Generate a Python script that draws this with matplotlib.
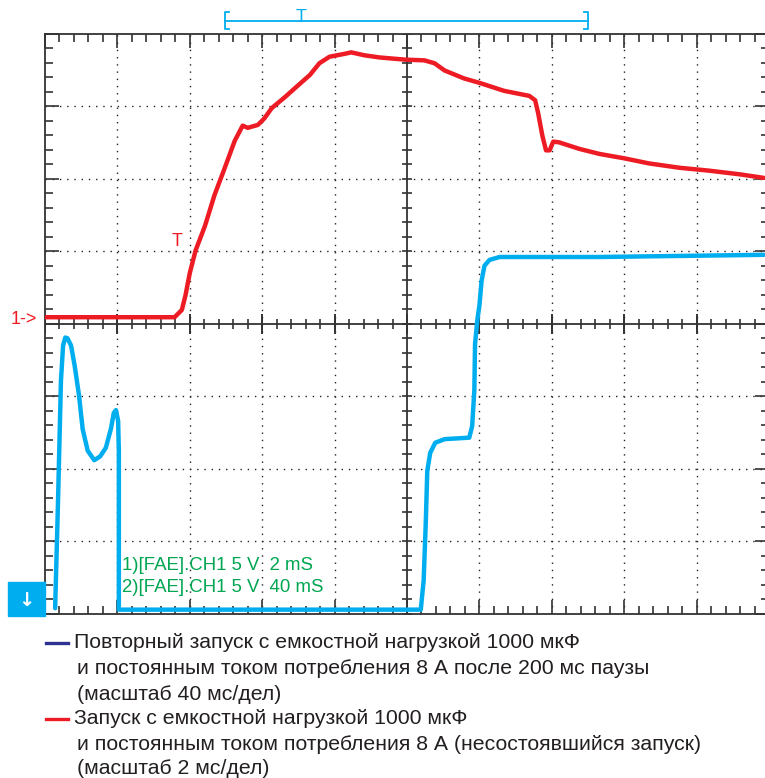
import numpy as np
import matplotlib.pyplot as plt
from matplotlib.lines import Line2D

# traces in screen divisions (x: 0..10, y: -4..4)
red_x = [0, 1.79, 1.89, 1.94, 2.00, 2.08, 2.21, 2.34, 2.48, 2.62, 2.73, 2.80, 2.94, 3.03,
         3.13, 3.31, 3.49, 3.66, 3.79, 3.93, 4.14, 4.23, 4.41, 4.62, 4.97, 5.24, 5.38,
         5.52, 5.79, 6.00, 6.34, 6.69, 6.77, 6.81, 6.87, 6.92, 6.97, 7.02, 7.10, 7.38,
         7.66, 8.00, 8.34, 8.76, 9.17, 9.59, 9.93]
red_y = [0.09, 0.09, 0.19, 0.39, 0.70, 1.01, 1.35, 1.77, 2.14, 2.52, 2.73, 2.70, 2.74, 2.83,
         2.97, 3.12, 3.28, 3.43, 3.59, 3.68, 3.72, 3.74, 3.70, 3.67, 3.64, 3.63, 3.59,
         3.49, 3.38, 3.32, 3.21, 3.14, 3.08, 2.91, 2.59, 2.39, 2.39, 2.51, 2.50, 2.41,
         2.34, 2.28, 2.21, 2.15, 2.11, 2.06, 2.01]

blue_x = [0.14, 0.18, 0.22, 0.25, 0.28, 0.31, 0.36, 0.41, 0.47, 0.52, 0.59, 0.68, 0.76, 0.84,
          0.91, 0.95, 0.98, 1.01, 1.02, 1.02, 5.19, 5.23, 5.26, 5.28, 5.32, 5.39, 5.52,
          5.86, 5.90, 5.93, 5.94, 5.97, 6.00, 6.03, 6.07, 6.14, 6.28, 7.66, 9.93]
blue_y = [-3.92, -2.44, -0.79, -0.30, -0.19, -0.20, -0.30, -0.58, -0.99, -1.45, -1.75, -1.88,
          -1.83, -1.71, -1.45, -1.23, -1.19, -1.34, -1.75, -3.94, -3.94, -3.54, -2.72,
          -2.03, -1.78, -1.64, -1.59, -1.57, -1.41, -0.92, -0.28, 0.04, 0.25, 0.59, 0.80,
          0.88, 0.92, 0.92, 0.95]

channel_info = ["1)[FAE].CH1 5 V  2 mS", "2)[FAE].CH1 5 V  40 mS"]
legend_blue = ["Повторный запуск с емкостной нагрузкой 1000 мкФ",
               "и постоянным током потребления 8 А после 200 мс паузы",
               "(масштаб 40 мс/дел)"]
legend_red = ["Запуск с емкостной нагрузкой 1000 мкФ",
              "и постоянным током потребления 8 А (несостоявшийся запуск)",
              "(масштаб 2 мс/дел)"]

RED = '#ed1c24'
BLUE = '#00aeef'
DARK = '#333333'
W, H = 765, 778

fig = plt.figure(figsize=(W / 100, H / 100), dpi=100)
# frame: 45..769 px wide (clipped on the right), 33.5..614 px high
ax = fig.add_axes([45 / W, 1 - 614 / H, 724 / W, 580.5 / H])
ax.set_xlim(0, 10)
ax.set_ylim(-4, 4)
for s in ax.spines.values():
    s.set_color(DARK)
    s.set_linewidth(1.3)
ax.set_xticks(np.arange(0, 11, 1))
ax.set_yticks(np.arange(-4, 5, 1))
ax.set_xticks(np.arange(0, 10.01, 0.2), minor=True)
ax.set_yticks(np.arange(-4, 4.01, 0.2), minor=True)
ax.tick_params(which='both', direction='in', top=True, right=True,
               labelbottom=False, labelleft=False, color=DARK, width=1.2)
ax.tick_params(which='major', length=10)
ax.tick_params(which='minor', length=6)

# dotted grid
for gx in [1, 2, 3, 4, 6, 7, 8, 9]:
    ax.axvline(gx, color='#222222', lw=1.0, ls=(0, (1, 4.2)), zorder=1)
for gy in [-3, -2, -1, 1, 2, 3]:
    ax.axhline(gy, color='#222222', lw=1.0, ls=(0, (1, 4.2)), zorder=1)

# centre axes with ticks
ax.axhline(0, color=DARK, lw=1.3, zorder=2)
ax.axvline(5, color=DARK, lw=1.3, zorder=2)
mx = np.arange(0, 10.01, 0.2)
ax.plot(mx, np.zeros_like(mx), ls='none', marker='|', ms=7, mew=1.2, color=DARK, zorder=2)
ax.plot(np.arange(0, 11, 1), np.zeros(11), ls='none', marker='|', ms=15, mew=1.4, color=DARK, zorder=2)
my = np.arange(-4, 4.01, 0.2)
ax.plot(np.full_like(my, 5), my, ls='none', marker='_', ms=7, mew=1.2, color=DARK, zorder=2)

# traces
ax.plot(red_x, red_y, color=RED, lw=3.2, solid_joinstyle='round', solid_capstyle='round', zorder=4)
ax.plot(blue_x, blue_y, color=BLUE, lw=3.2, solid_joinstyle='round', solid_capstyle='round', zorder=4)

ax.text(1.83, 1.13, 'T', color=RED, fontsize=13, family='Liberation Sans', ha='center', va='center')
ax.text(1.06, -3.33, channel_info[0], color='#00a651', fontsize=13.4, family='Liberation Sans', va='center')
ax.text(1.06, -3.64, channel_info[1], color='#00a651', fontsize=13.4, family='Liberation Sans', va='center')

# marker "1->" and the blue ground box
fig.text(11 / W, 1 - 319 / H, '1->', color=RED, fontsize=13, family='Liberation Sans', va='center')
fig.add_artist(plt.Rectangle((8 / W, 1 - 616 / H), 37 / W, 34 / H, color=BLUE,
                             transform=fig.transFigure))
fig.text(26 / W, 1 - 600 / H, '↓', color='white', fontsize=14, ha='center', va='center',
         fontweight='bold')

# trigger bracket at top
yb = 1 - 20.5 / H
fig.add_artist(Line2D([225 / W, 588 / W], [yb, yb], color=BLUE, lw=1.3))
for xb, d in [(225, 4), (588, -4)]:
    fig.add_artist(Line2D([(xb + d) / W, xb / W, xb / W, (xb + d) / W],
                          [1 - 12 / H, 1 - 12 / H, 1 - 29 / H, 1 - 29 / H], color=BLUE, lw=1.3))
fig.text(301 / W, 1 - 18 / H, 'T', color=BLUE, fontsize=13, family='Liberation Sans',
         ha='center', va='center')

# legend
ys = [643, 669, 694, 719, 744, 768]
lines = legend_blue + legend_red
for i, (t, yy) in enumerate(zip(lines, ys)):
    x0 = 74 if i in (0, 3) else 77
    fig.text(x0 / W, 1 - yy / H, t, color='#231f20', fontsize=15.3,
             family='Liberation Sans', va='center')
fig.add_artist(Line2D([46 / W, 68 / W], [1 - 643 / H] * 2, color='#2e3192', lw=2.4))
fig.add_artist(Line2D([46 / W, 68 / W], [1 - 719 / H] * 2, color=RED, lw=2.4))

fig.savefig('out.png', dpi=100)
